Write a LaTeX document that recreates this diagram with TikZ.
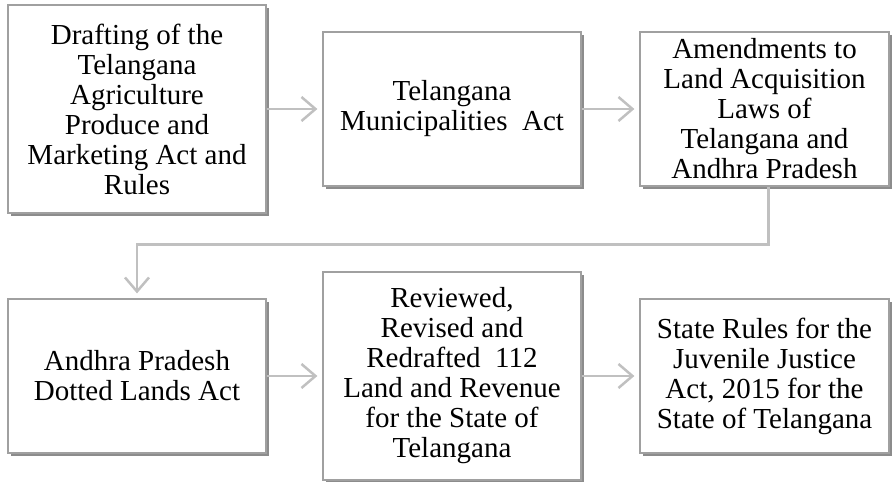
\documentclass[tikz,border=0pt]{standalone}
\usepackage{fontspec}
\setmainfont{Liberation Serif}
\usetikzlibrary{arrows.meta,shadows}
\definecolor{boxline}{HTML}{A0A0A0}
\definecolor{boxshade}{HTML}{8C8C8C}
\definecolor{linkgray}{HTML}{C0C0C0}

\begin{document}
\begin{tikzpicture}[x=1pt, y=-1pt,
    act/.style={draw=boxline, line width=1.2pt, fill=white, align=center,
        inner sep=0pt, font=\fontsize{29}{30}\selectfont,
        drop shadow={shadow xshift=2.5pt, shadow yshift=-2.5pt,
            fill=boxshade, opacity=1}},
    tall/.style={act, minimum width=258pt, minimum height=208pt},
    wide/.style={act, minimum width=258pt, minimum height=154pt},
    narrow/.style={act, minimum width=249pt, minimum height=154pt},
    link/.style={draw=linkgray, line width=2.5pt,
        -{Straight Barb[length=14pt,width=24pt]}, shorten >=5pt}
]
\useasboundingbox (0,0) rectangle (892,482);

% top row
\node[tall] (drafting) at (137,109)
    {Drafting of the\\Telangana\\Agriculture\\Produce and\\Marketing Act and\\Rules};
\node[wide] (municipal) at (452,109)
    {Telangana\\Municipalities\ \ Act};
\node[narrow] (laws) at (764.5,109)
    {Amendments to\\Land Acquisition\\Laws of\\Telangana and\\Andhra Pradesh};

% bottom row
\node[wide] (dotted) at (137,376)
    {Andhra Pradesh\\Dotted Lands Act};
\node[tall] (reviewed) at (452,376)
    {Reviewed,\\Revised and\\Redrafted\ \ 112\\Land and Revenue\\for the State\ of\\Telangana};
\node[narrow] (juvenile) at (764.5,376)
    {State Rules for the\\Juvenile Justice\\Act, 2015\ for the\\State\ of Telangana};

% connectors
\draw[link] (drafting) -- (municipal);
\draw[link] (municipal) -- (laws);
\draw[link] ([xshift=4pt]laws.south) -- ++(0,58) -| (dotted.north);
\draw[link] (dotted) -- (reviewed);
\draw[link] (reviewed) -- (juvenile);
\end{tikzpicture}
\end{document}
